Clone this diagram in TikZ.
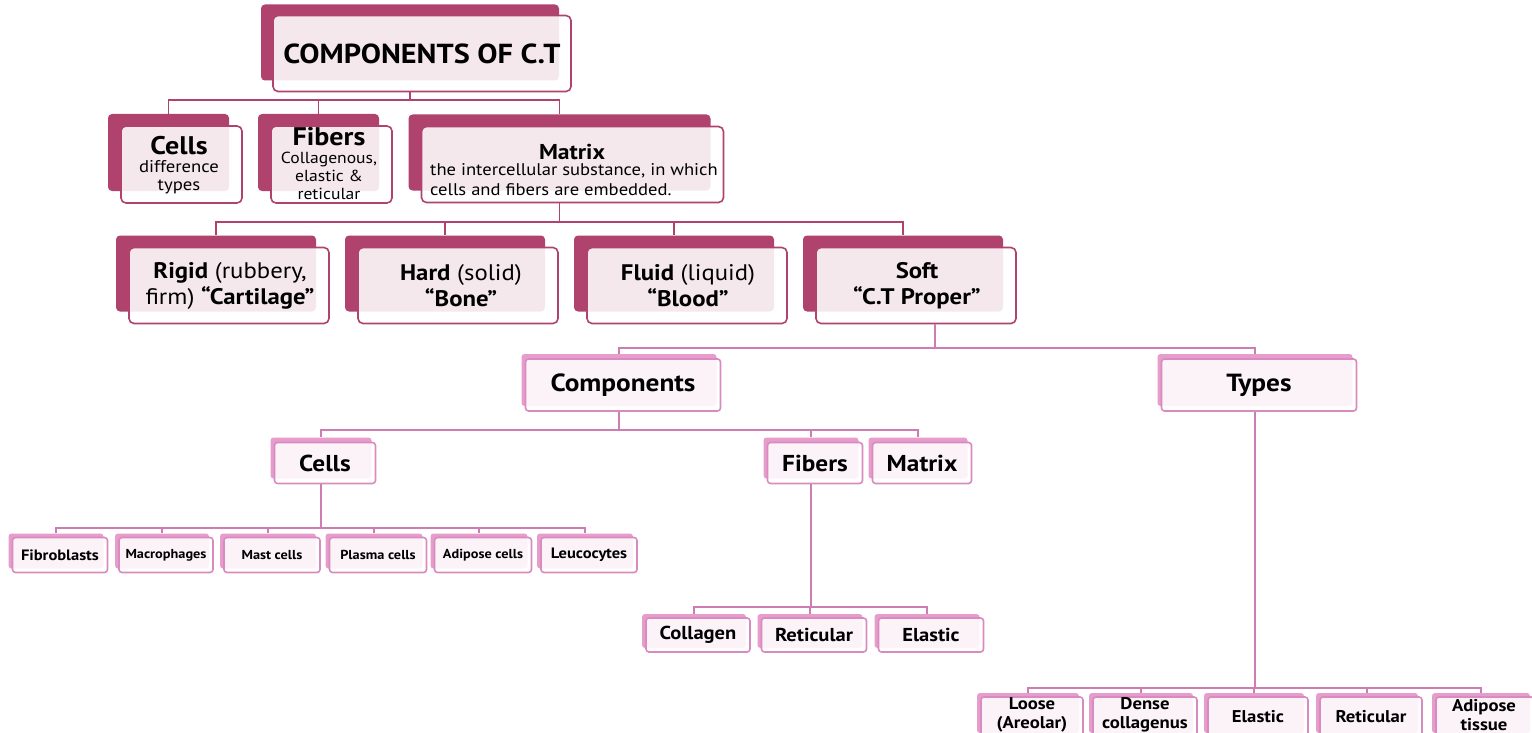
\documentclass[tikz,border=0pt]{standalone}
\usepackage{fontspec}
\setmainfont{PT Sans}[FakeStretch=1.1]
\usetikzlibrary{calc}
\definecolor{dk}{HTML}{B0436E}
\definecolor{lt}{HTML}{E79DCC}
\definecolor{ltb}{HTML}{D98BC0}
\definecolor{ltl}{HTML}{CD7DB2}
\newcommand\fs[2]{\fontsize{#1}{#2}\selectfont}
\tikzset{
  dkback/.style={fill=dk, rounded corners=4pt, inner sep=0pt},
  dkfront/.style={draw=dk, line width=1.6pt, fill=white, fill opacity=0.88, rounded corners=5pt, inner sep=0pt},
  ltback/.style={fill=lt, rounded corners=3pt, inner sep=0pt},
  ltfront/.style={draw=ltb, line width=1.6pt, fill=white, fill opacity=0.88, rounded corners=3pt, inner sep=0pt},
  dkline/.style={draw=dk, line width=1.6pt},
  ltline/.style={draw=ltl, line width=1.6pt},
  txt/.style={inner sep=0pt, align=center, text=black},
}
% name, kind, back cx, back cy, w, h, dx, dy
\newcommand\pbox[8]{%
  \node[#2back, minimum width=#5, minimum height=#6] (#1B) at (#3,#4) {};
  \node[#2front, minimum width=#5, minimum height=#6] (#1) at ($(#1B)+(#7,#8)$) {};}
\begin{document}
\begin{tikzpicture}[x=1pt,y=-1pt]
\useasboundingbox[fill=white] (0,0) rectangle (1532,733);
\coordinate (bus1) at (0,100);
\coordinate (bus2) at (0,222);
\coordinate (bus3) at (0,348);
\coordinate (bus4) at (0,430);
\coordinate (bus5) at (0,528);
\coordinate (bus6) at (0,607);
\coordinate (bus7) at (0,688);

% ---- boxes
\pbox{title}{dk}{410}{42.5}{298}{76}{12}{11}
\pbox{cells}{dk}{168.5}{152.5}{121}{77}{13}{12}
\pbox{fibers}{dk}{318.5}{152.5}{121}{77}{13}{12}
\pbox{matrix}{dk}{559.5}{152.5}{302}{76}{13}{12}
\pbox{rigid}{dk}{216}{273.5}{200}{76}{13}{12}
\pbox{hard}{dk}{445}{273.5}{200}{76}{13}{12}
\pbox{fluid}{dk}{674}{273.5}{200}{76}{13}{12}
\pbox{soft}{dk}{903}{273.5}{200}{76}{13}{12}

\pbox{comp}{lt}{619}{380}{195}{52}{4}{5}
\pbox{types}{lt}{1255}{380}{195}{52}{4}{5}
\pbox{ccells}{lt}{321}{458}{101}{41}{4}{5}
\pbox{cfibers}{lt}{811}{458}{95}{41}{4}{5}
\pbox{cmatrix}{lt}{918}{458}{99}{41}{4}{5}

\pbox{fibro}{lt}{56}{551}{95}{35}{4}{4}
\pbox{macro}{lt}{162}{551}{94}{35}{4}{4}
\pbox{mast}{lt}{268}{551}{96}{35}{4}{4}
\pbox{plasma}{lt}{374}{551}{97}{35}{4}{4}
\pbox{adipc}{lt}{479}{551}{97}{35}{4}{4}
\pbox{leuco}{lt}{585}{551}{96}{35}{4}{4}

\pbox{coll}{lt}{694}{631}{104}{34}{4}{4}
\pbox{reti}{lt}{810}{631}{105}{34}{4}{4}
\pbox{elas}{lt}{927}{631}{105}{34}{4}{4}

\pbox{loose}{lt}{1028}{713}{102}{40}{4}{4}
\pbox{dense}{lt}{1141}{713}{104}{40}{4}{4}
\pbox{telas}{lt}{1254}{713}{100}{40}{4}{4}
\pbox{treti}{lt}{1367}{713}{102}{40}{4}{4}
\pbox{tadip}{lt}{1481}{713}{98}{40}{4}{4}

% ---- connectors
\foreach \c in {cells,fibers,matrix}
  \draw[dkline] (titleB.south |- title.south) -- (titleB.south |- bus1) -| (\c B.north);
\foreach \c in {rigid,hard,fluid,soft}
  \draw[dkline] (matrixB.south |- matrix.south) -- (matrixB.south |- bus2) -| (\c B.north);
\foreach \c in {comp,types}
  \draw[ltline] ([xshift=19pt]soft.south) -- ([xshift=19pt]soft.south |- bus3) -| (\c B.north);
\foreach \c in {ccells,cfibers,cmatrix}
  \draw[ltline] (compB.south |- comp.south) -- (compB.south |- bus4) -| (\c B.north);
\foreach \c in {fibro,macro,mast,plasma,adipc,leuco}
  \draw[ltline] (ccellsB.south |- ccells.south) -- (ccellsB.south |- bus5) -| (\c B.north);
\foreach \c in {coll,reti,elas}
  \draw[ltline] (cfibersB.south |- cfibers.south) -- (cfibersB.south |- bus6) -| (\c B.north);
\foreach \c in {loose,dense,telas,treti,tadip}
  \draw[ltline] (typesB.south |- types.south) -- (typesB.south |- bus7) -| (\c B.north);

% ---- texts
\node[txt, font=\fs{27.5}{30}\bfseries] (titleT) at (422,54) {COMPONENTS OF C.T};
\node[txt, font=\fs{17}{18}] (cellsT) at (179,165) {{\fs{25.5}{26}\bfseries Cells}\\difference\\types};
\node[txt, font=\fs{16}{18}] (fibersT) at (329,164) {{\fs{25.5}{26}\bfseries Fibers}\\Collagenous,\\elastic \&\\reticular};
\node[txt, font=\fs{21.5}{22}\bfseries] (matrixT) at (572,152) {Matrix};
\node[inner sep=0pt, align=left, font=\fs{16.9}{20}] (matrixD) at (574,180) {the intercellular substance, in which\\cells and fibers are embedded.};

\node[txt, font=\fs{22.5}{26}] (rigidT) at (230,286) {{\bfseries Rigid} (rubbery,\\firm) {\bfseries “Cartilage”}};
\node[txt, font=\fs{22.5}{26}] (hardT) at (461,286) {{\bfseries Hard} (solid)\\{\bfseries “Bone”}};
\node[txt, font=\fs{22.5}{26}] (fluidT) at (688,286) {{\bfseries Fluid} (liquid)\\{\bfseries “Blood”}};
\node[txt, font=\fs{22.5}{26}\bfseries] (softT) at (917,286) {Soft\\“C.T Proper”};

\node[txt, font=\fs{24.8}{26}\bfseries] (compT) at (623,385) {Components};
\node[txt, font=\fs{24.8}{26}\bfseries] (typesT) at (1259,385) {Types};
\node[txt, font=\fs{23}{24}\bfseries] (ccellsT) at (325,463) {Cells};
\node[txt, font=\fs{23}{24}\bfseries] (cfibersT) at (815,463) {Fibers};
\node[txt, font=\fs{23}{24}\bfseries] (cmatrixT) at (922,463) {Matrix};

\foreach \c/\t in {fibro/Fibroblasts,leuco/Leucocytes}
  \node[txt, font=\fs{15}{16}\bfseries] at (\c) {\t};
\foreach \c/\t in {macro/Macrophages,mast/Mast cells,plasma/Plasma cells,adipc/Adipose cells}
  \node[txt, font=\fs{13}{14}\bfseries] at (\c) {\t};
\foreach \c/\t in {coll/Collagen,reti/Reticular,elas/Elastic}
  \node[txt, font=\fs{18.7}{20}\bfseries] at (\c) {\t};
\node[txt, font=\fs{17}{18.5}\bfseries] (looseT) at (1032,715) {Loose\\(Areolar)};
\node[txt, font=\fs{17}{18.5}\bfseries] (denseT) at (1145,715) {Dense\\collagenus};
\node[txt, font=\fs{17}{18.5}\bfseries] (telasT) at (telas) {Elastic};
\node[txt, font=\fs{17}{18.5}\bfseries] (tretiT) at (treti) {Reticular};
\node[txt, font=\fs{17}{18.5}\bfseries] (tadipT) at (1484,715) {Adipose\\tissue};
\end{tikzpicture}
\end{document}
